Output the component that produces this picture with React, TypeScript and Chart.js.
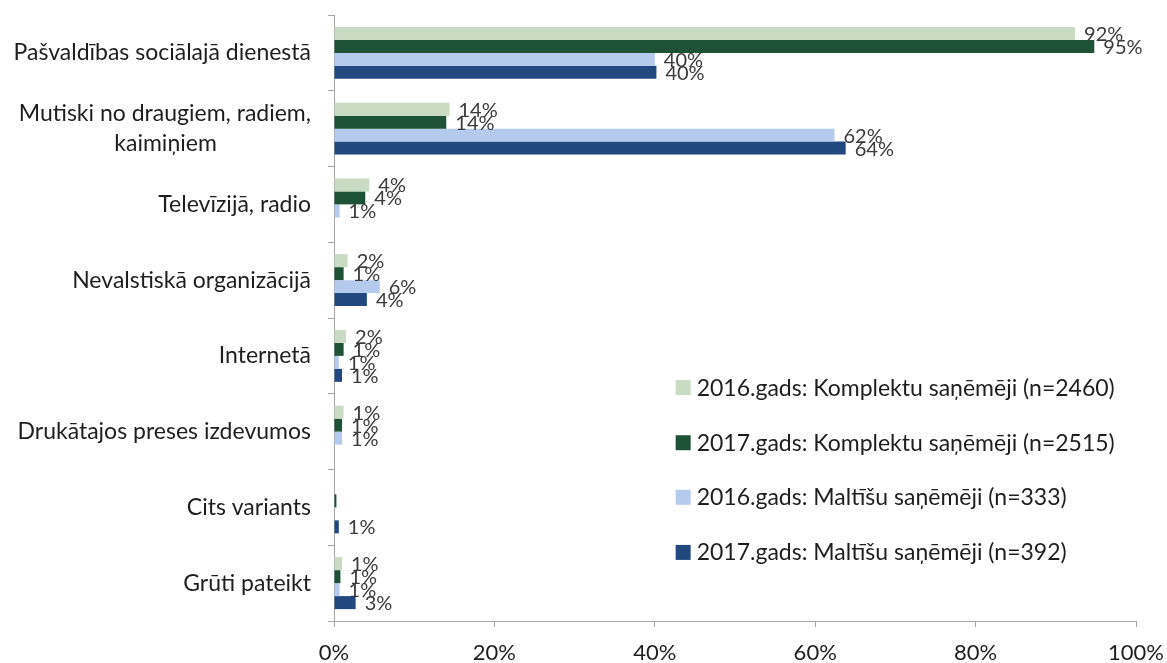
import React, { useEffect, useRef } from "react";
import { Chart, registerables } from "chart.js";

Chart.register(...registerables);

const FONT = "Lato, 'Open Sans', sans-serif";

const categories: (string | string[])[] = [
  "Pašvaldības sociālajā dienestā",
  ["Mutiski no draugiem, radiem,", "kaimiņiem"],
  "Televīzijā, radio",
  "Nevalstiskā organizācijā",
  "Internetā",
  "Drukātajos preses izdevumos",
  "Cits variants",
  "Grūti pateikt",
];

const seriesNames = [
  "2016.gads: Komplektu saņēmēji (n=2460)",
  "2017.gads: Komplektu saņēmēji (n=2515)",
  "2016.gads: Maltīšu saņēmēji (n=333)",
  "2017.gads: Maltīšu saņēmēji (n=392)",
];

const komplekti2016 = [92.4, 14.4, 4.4, 1.7, 1.5, 1.2, 0, 1.0];
const komplekti2017 = [94.8, 14.0, 3.9, 1.2, 1.2, 1.0, 0.3, 0.8];
const maltites2016 = [40.0, 62.4, 0.7, 5.7, 0.6, 1.0, 0, 0.7];
const maltites2017 = [40.2, 63.8, 0, 4.1, 1.0, 0, 0.6, 2.7];

const seriesColors = ["#c9dcc3", "#1d5236", "#b4cbed", "#22497f"];

const xTicks = [0, 20, 40, 60, 80, 100];

function centerMultiline(label: string | string[], font: string): string | string[] {
  if (!Array.isArray(label)) return label;
  const c = document.createElement("canvas").getContext("2d")!;
  c.font = font;
  const widths = label.map((l) => c.measureText(l).width);
  const maxW = Math.max(...widths);
  return label.map((l, i) => {
    let s = l;
    const target = widths[i] + (maxW - widths[i]) / 2;
    while (c.measureText(s + " ").width <= target + 1) s += " ";
    return s;
  });
}

const dataLabelPlugin = {
  id: "dataLabels",
  afterDatasetsDraw(chart: any) {
    const ctx = chart.ctx;
    ctx.save();
    ctx.font = `20px ${FONT}`;
    ctx.fillStyle = "#3a3a3a";
    ctx.textAlign = "left";
    ctx.textBaseline = "middle";
    chart.data.datasets.forEach((ds: any, di: number) => {
      const meta = chart.getDatasetMeta(di);
      meta.data.forEach((bar: any, i: number) => {
        const v = ds.data[i];
        const r = Math.round(v);
        if (r < 1) return;
        ctx.fillText(r + "%", bar.x + 9, bar.y + 1);
      });
    });
    ctx.restore();
  },
};

const legendPlugin = {
  id: "insideLegend",
  afterDraw(chart: any) {
    const ctx = chart.ctx;
    const area = chart.chartArea;
    const xs = chart.scales.x;
    const x0 = xs.getPixelForValue(42.6);
    const fracs = [0.614, 0.705, 0.795, 0.886];
    ctx.save();
    ctx.font = `23px ${FONT}`;
    ctx.textBaseline = "middle";
    ctx.textAlign = "left";
    seriesNames.forEach((name, i) => {
      const y = area.top + fracs[i] * (area.bottom - area.top);
      ctx.fillStyle = seriesColors[i];
      ctx.fillRect(x0, y - 7, 15, 15);
      ctx.fillStyle = "#1e1e1e";
      ctx.fillText(name, x0 + 21, y + 1);
    });
    ctx.restore();
  },
};

export default function App() {
  const ref = useRef<HTMLCanvasElement>(null);
  useEffect(() => {
    const yFont = `23px ${FONT}`;
    const labels = categories.map((c) => centerMultiline(c, yFont));
    const chart = new Chart(ref.current!, {
      type: "bar",
      data: {
        labels,
        datasets: [komplekti2016, komplekti2017, maltites2016, maltites2017].map((d, i) => ({
          label: seriesNames[i],
          data: d,
          backgroundColor: seriesColors[i],
          borderWidth: 0,
          categoryPercentage: 0.686,
          barPercentage: 1,
        })),
      },
      options: {
        indexAxis: "y",
        animation: false,
        responsive: false,
        maintainAspectRatio: false,
        layout: { padding: { top: 15, right: 31, left: 0, bottom: 0 } },
        plugins: { legend: { display: false }, tooltip: { enabled: false } },
        scales: {
          x: {
            min: 0,
            max: 100,
            afterBuildTicks: (s: any) => {
              s.ticks = xTicks.map((v) => ({ value: v }));
            },
            afterFit: (s: any) => {
              s.height = 42;
              s.paddingLeft = 0;
              s.paddingRight = 0;
            },
            ticks: {
              callback: (v: any) => v + "%",
              font: { family: FONT, size: 22 },
              color: "#1e1e1e",
              padding: 13,
              maxRotation: 0,
            },
            grid: { drawOnChartArea: false, drawTicks: true, tickLength: 6, color: "#a6a6a6" },
            border: { display: true, color: "#a6a6a6" },
          },
          y: {
            afterFit: (s: any) => {
              s.width = 334;
              s.paddingTop = 0;
              s.paddingBottom = 0;
            },
            ticks: {
              font: { family: FONT, size: 23, lineHeight: 1.3 },
              color: "#1e1e1e",
              padding: 17,
              autoSkip: false,
            },
            grid: { drawOnChartArea: false, drawTicks: true, tickLength: 6, color: "#a6a6a6", offset: true },
            border: { display: true, color: "#a6a6a6" },
          },
        },
      },
      plugins: [dataLabelPlugin, legendPlugin],
    } as any);
    return () => chart.destroy();
  }, []);
  return (
    <div style={{ position: "fixed", left: 0, top: 0, width: 1167, height: 663, background: "#fff" }}>
      <canvas ref={ref} width={1167} height={663} style={{ width: 1167, height: 663, display: "block" }} />
    </div>
  );
}
